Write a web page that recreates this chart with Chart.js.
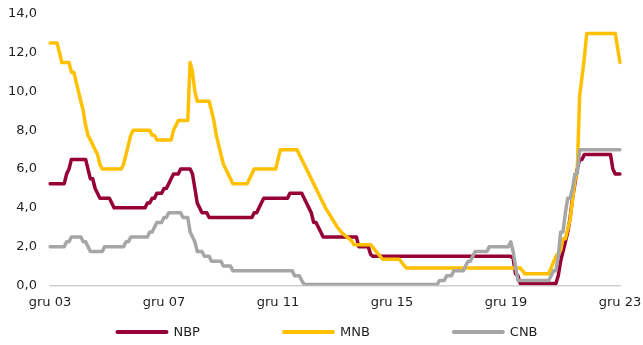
<!DOCTYPE html>
<html lang="pl">
<head>
<meta charset="utf-8">
<title>Stopy procentowe NBP, MNB, CNB</title>
<script src="https://cdn.jsdelivr.net/npm/chart.js@4.4.1/dist/chart.umd.min.js"></script>
<style>
  html, body { margin: 0; padding: 0; background: #ffffff; }
  #rates { display: block; }
</style>
</head>
<body>
<canvas id="rates" width="643" height="345"></canvas>
<script>
// Policy rates, monthly, from Dec 2003 to Dec 2023 (first value = Dec 2003, then one row per year)
const nbpRates = [
  5.25,
  5.25, 5.25, 5.25, 5.25, 5.25, 5.25, 5.75, 6.0, 6.5, 6.5, 6.5, 6.5,          // 2004
  6.5, 6.5, 6.5, 6.0, 5.5, 5.5, 5.0, 4.75, 4.5, 4.5, 4.5, 4.5,                // 2005
  4.5, 4.25, 4.0, 4.0, 4.0, 4.0, 4.0, 4.0, 4.0, 4.0, 4.0, 4.0,                // 2006
  4.0, 4.0, 4.0, 4.0, 4.25, 4.25, 4.5, 4.5, 4.75, 4.75, 4.75, 5.0,            // 2007
  5.0, 5.25, 5.5, 5.75, 5.75, 5.75, 6.0, 6.0, 6.0, 6.0, 6.0, 5.75,            // 2008
  5.0, 4.25, 4.0, 3.75, 3.75, 3.75, 3.5, 3.5, 3.5, 3.5, 3.5, 3.5,             // 2009
  3.5, 3.5, 3.5, 3.5, 3.5, 3.5, 3.5, 3.5, 3.5, 3.5, 3.5, 3.5,                 // 2010
  3.5, 3.75, 3.75, 4.0, 4.25, 4.5, 4.5, 4.5, 4.5, 4.5, 4.5, 4.5,              // 2011
  4.5, 4.5, 4.5, 4.5, 4.75, 4.75, 4.75, 4.75, 4.75, 4.75, 4.5, 4.25,          // 2012
  4.0, 3.75, 3.25, 3.25, 3.0, 2.75, 2.5, 2.5, 2.5, 2.5, 2.5, 2.5,             // 2013
  2.5, 2.5, 2.5, 2.5, 2.5, 2.5, 2.5, 2.5, 2.5, 2.0, 2.0, 2.0,                 // 2014
  2.0, 2.0, 1.6, 1.5, 1.5, 1.5, 1.5, 1.5, 1.5, 1.5, 1.5, 1.5,                 // 2015
  1.5, 1.5, 1.5, 1.5, 1.5, 1.5, 1.5, 1.5, 1.5, 1.5, 1.5, 1.5,                 // 2016
  1.5, 1.5, 1.5, 1.5, 1.5, 1.5, 1.5, 1.5, 1.5, 1.5, 1.5, 1.5,                 // 2017
  1.5, 1.5, 1.5, 1.5, 1.5, 1.5, 1.5, 1.5, 1.5, 1.5, 1.5, 1.5,                 // 2018
  1.5, 1.5, 1.5, 1.5, 1.5, 1.5, 1.5, 1.5, 1.5, 1.5, 1.5, 1.5,                 // 2019
  1.5, 1.5, 1.4, 0.6, 0.5, 0.1, 0.1, 0.1, 0.1, 0.1, 0.1, 0.1,                 // 2020
  0.1, 0.1, 0.1, 0.1, 0.1, 0.1, 0.1, 0.1, 0.1, 0.5, 1.25, 1.75,               // 2021
  2.25, 2.75, 3.5, 4.5, 5.25, 6.0, 6.5, 6.5, 6.75, 6.75, 6.75, 6.75,          // 2022
  6.75, 6.75, 6.75, 6.75, 6.75, 6.75, 6.75, 6.75, 6.0, 5.75, 5.75, 5.75       // 2023
];

const mnbRates = [
  12.5,
  12.5, 12.5, 12.5, 12.0, 11.5, 11.5, 11.5, 11.5, 11.0, 11.0, 10.5, 10.0,     // 2004
  9.5, 9.0, 8.25, 7.75, 7.5, 7.25, 7.0, 6.75, 6.25, 6.0, 6.0, 6.0,            // 2005
  6.0, 6.0, 6.0, 6.0, 6.0, 6.0, 6.25, 6.75, 7.25, 7.75, 8.0, 8.0,             // 2006
  8.0, 8.0, 8.0, 8.0, 8.0, 8.0, 7.75, 7.75, 7.5, 7.5, 7.5, 7.5,               // 2007
  7.5, 7.5, 7.5, 8.0, 8.25, 8.5, 8.5, 8.5, 8.5, 8.5, 11.5, 11.0,              // 2008
  10.0, 9.5, 9.5, 9.5, 9.5, 9.5, 9.5, 9.0, 8.5, 7.75, 7.25, 6.75,             // 2009
  6.25, 6.0, 5.75, 5.5, 5.25, 5.25, 5.25, 5.25, 5.25, 5.25, 5.25, 5.5,        // 2010
  5.75, 6.0, 6.0, 6.0, 6.0, 6.0, 6.0, 6.0, 6.0, 6.0, 6.0, 6.5,                // 2011
  7.0, 7.0, 7.0, 7.0, 7.0, 7.0, 7.0, 7.0, 6.75, 6.5, 6.25, 6.0,               // 2012
  5.75, 5.5, 5.25, 5.0, 4.75, 4.5, 4.25, 4.0, 3.8, 3.6, 3.4, 3.2,             // 2013
  3.0, 2.85, 2.7, 2.6, 2.5, 2.4, 2.3, 2.1, 2.1, 2.1, 2.1, 2.1,                // 2014
  2.1, 2.1, 2.1, 1.95, 1.8, 1.65, 1.5, 1.35, 1.35, 1.35, 1.35, 1.35,          // 2015
  1.35, 1.35, 1.35, 1.2, 1.05, 0.9, 0.9, 0.9, 0.9, 0.9, 0.9, 0.9,             // 2016
  0.9, 0.9, 0.9, 0.9, 0.9, 0.9, 0.9, 0.9, 0.9, 0.9, 0.9, 0.9,                 // 2017
  0.9, 0.9, 0.9, 0.9, 0.9, 0.9, 0.9, 0.9, 0.9, 0.9, 0.9, 0.9,                 // 2018
  0.9, 0.9, 0.9, 0.9, 0.9, 0.9, 0.9, 0.9, 0.9, 0.9, 0.9, 0.9,                 // 2019
  0.9, 0.9, 0.9, 0.9, 0.9, 0.9, 0.75, 0.6, 0.6, 0.6, 0.6, 0.6,                // 2020
  0.6, 0.6, 0.6, 0.6, 0.6, 0.6, 0.9, 1.2, 1.5, 1.65, 1.8, 2.4,                // 2021
  2.4, 2.9, 3.4, 4.4, 5.4, 5.9, 9.75, 10.75, 11.75, 13.0, 13.0, 13.0,         // 2022
  13.0, 13.0, 13.0, 13.0, 13.0, 13.0, 13.0, 13.0, 13.0, 13.0, 12.25, 11.5     // 2023
];

const cnbRates = [
  2.0,
  2.0, 2.0, 2.0, 2.0, 2.0, 2.0, 2.25, 2.25, 2.5, 2.5, 2.5, 2.5,               // 2004
  2.5, 2.25, 2.25, 2.0, 1.75, 1.75, 1.75, 1.75, 1.75, 1.75, 2.0, 2.0,         // 2005
  2.0, 2.0, 2.0, 2.0, 2.0, 2.0, 2.0, 2.25, 2.25, 2.5, 2.5, 2.5,               // 2006
  2.5, 2.5, 2.5, 2.5, 2.5, 2.75, 2.75, 3.0, 3.25, 3.25, 3.25, 3.5,            // 2007
  3.5, 3.75, 3.75, 3.75, 3.75, 3.75, 3.75, 3.5, 3.5, 3.5, 2.75, 2.5,          // 2008
  2.25, 1.75, 1.75, 1.75, 1.5, 1.5, 1.5, 1.25, 1.25, 1.25, 1.25, 1.25,        // 2009
  1.0, 1.0, 1.0, 1.0, 0.75, 0.75, 0.75, 0.75, 0.75, 0.75, 0.75, 0.75,         // 2010
  0.75, 0.75, 0.75, 0.75, 0.75, 0.75, 0.75, 0.75, 0.75, 0.75, 0.75, 0.75,     // 2011
  0.75, 0.75, 0.75, 0.75, 0.75, 0.75, 0.5, 0.5, 0.5, 0.25, 0.05, 0.05,        // 2012
  0.05, 0.05, 0.05, 0.05, 0.05, 0.05, 0.05, 0.05, 0.05, 0.05, 0.05, 0.05,     // 2013
  0.05, 0.05, 0.05, 0.05, 0.05, 0.05, 0.05, 0.05, 0.05, 0.05, 0.05, 0.05,     // 2014
  0.05, 0.05, 0.05, 0.05, 0.05, 0.05, 0.05, 0.05, 0.05, 0.05, 0.05, 0.05,     // 2015
  0.05, 0.05, 0.05, 0.05, 0.05, 0.05, 0.05, 0.05, 0.05, 0.05, 0.05, 0.05,     // 2016
  0.05, 0.05, 0.05, 0.05, 0.05, 0.05, 0.05, 0.25, 0.25, 0.25, 0.5, 0.5,       // 2017
  0.5, 0.75, 0.75, 0.75, 0.75, 0.75, 1.0, 1.25, 1.25, 1.5, 1.75, 1.75,        // 2018
  1.75, 1.75, 1.75, 1.75, 2.0, 2.0, 2.0, 2.0, 2.0, 2.0, 2.0, 2.0,             // 2019
  2.0, 2.25, 1.75, 1.0, 0.25, 0.25, 0.25, 0.25, 0.25, 0.25, 0.25, 0.25,       // 2020
  0.25, 0.25, 0.25, 0.25, 0.25, 0.25, 0.5, 0.75, 0.75, 1.5, 2.75, 2.75,       // 2021
  3.75, 4.5, 4.5, 5.0, 5.75, 5.75, 7.0, 7.0, 7.0, 7.0, 7.0, 7.0,              // 2022
  7.0, 7.0, 7.0, 7.0, 7.0, 7.0, 7.0, 7.0, 7.0, 7.0, 7.0, 7.0                  // 2023
];

const seriesNames = ['NBP', 'MNB', 'CNB'];
const tickLabels = ['gru 03', 'gru 07', 'gru 11', 'gru 15', 'gru 19', 'gru 23'];
const tickEvery = 48; // one label every four years

// month keys for the category axis
const months = [];
for (let i = 0; i < nbpRates.length; i++) {
    const d = new Date(2003, 11 + i, 1);
    months.push(d.getFullYear() + '-' + String(d.getMonth() + 1).padStart(2, '0'));
}

const FONT = '"DejaVu Sans", Verdana, sans-serif';
const TEXT_COLOR = '#1f1f1f';

// Legend drawn as one wide row under the axis, Excel style
const wideLegend = {
    id: 'wideLegend',
    afterDraw(chart) {
        const ctx = chart.ctx;
        const sets = chart.data.datasets;
        const sample = 53, textGap = 5, itemGap = 82;
        ctx.save();
        ctx.font = '13px ' + FONT;
        const widths = sets.map(ds => sample + textGap + ctx.measureText(ds.label).width);
        const total = widths.reduce((a, b) => a + b, 0) + itemGap * (sets.length - 1);
        let x = chart.width / 2 + 5 - total / 2;
        const y = chart.height - 13;
        sets.forEach((ds, i) => {
            ctx.strokeStyle = ds.borderColor;
            ctx.lineWidth = 4;
            ctx.lineCap = 'round';
            ctx.beginPath();
            ctx.moveTo(x + 2, y);
            ctx.lineTo(x + sample - 2, y);
            ctx.stroke();
            ctx.fillStyle = TEXT_COLOR;
            ctx.textBaseline = 'middle';
            ctx.textAlign = 'left';
            ctx.fillText(ds.label, x + sample + textGap, y + 1);
            x += widths[i] + itemGap;
        });
        ctx.restore();
    }
};

function lineSet(label, data, color, order) {
    return {
        label: label,
        data: data,
        borderColor: color,
        backgroundColor: color,
        borderWidth: 3.5,
        pointRadius: 0,
        pointHoverRadius: 0,
        tension: 0,
        borderJoinStyle: 'round',
        borderCapStyle: 'round',
        order: order
    };
}

// label gaps come from tickLength (grid hidden, so no marks are drawn)
const ctx = document.getElementById('rates').getContext('2d');
new Chart(ctx, {
    type: 'line',
    data: {
        labels: months,
        datasets: [
            lineSet(seriesNames[0], nbpRates, '#960036', 3),
            lineSet(seriesNames[1], mnbRates, '#FFC000', 2),
            lineSet(seriesNames[2], cnbRates, '#A6A6A6', 1)
        ]
    },
    options: {
        responsive: false,
        animation: false,
        devicePixelRatio: 1,
        layout: { padding: { top: 14, right: 23, bottom: 35, left: 0 } },
        plugins: {
            legend: { display: false },
            tooltip: { enabled: false }
        },
        scales: {
            x: {
                type: 'category',
                offset: false,
                grid: { display: false, drawTicks: true, tickLength: 9 },
                border: { display: true, color: '#D0D0D0', width: 1.5 },
                ticks: {
                    autoSkip: false,
                    maxRotation: 0,
                    padding: 0,
                    color: TEXT_COLOR,
                    font: { family: FONT, size: 13 },
                    callback: (value, index) => index % tickEvery === 0 ? tickLabels[index / tickEvery] : null
                }
            },
            y: {
                min: 0,
                max: 14,
                afterFit: scale => { scale.width = 50; },
                grid: { display: false, drawTicks: true, tickLength: 13 },
                border: { display: false },
                ticks: {
                    stepSize: 2,
                    padding: 0,
                    color: TEXT_COLOR,
                    font: { family: FONT, size: 13 },
                    callback: v => v.toFixed(1).replace('.', ',')
                }
            }
        }
    },
    plugins: [wideLegend]
});
</script>
</body>
</html>
